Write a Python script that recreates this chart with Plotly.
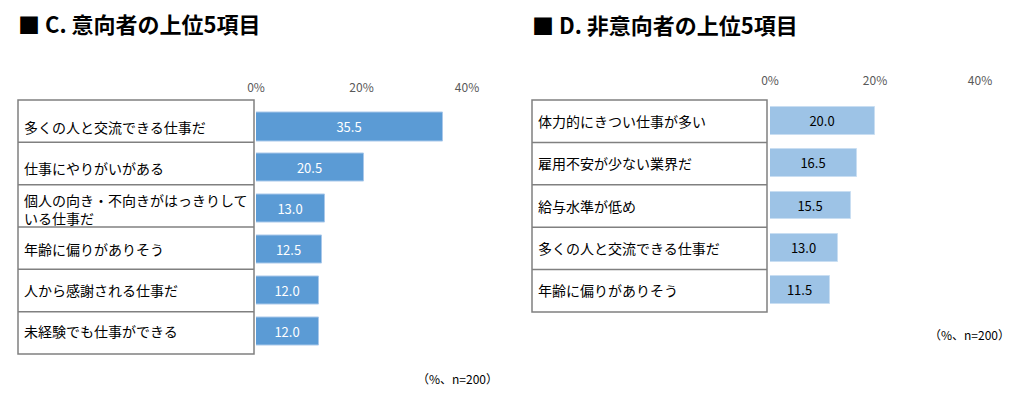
import plotly.graph_objects as go

# page body has an 8px margin, so the figure is 1010x390 placed at (8, 8)
OFF = 8
W, H = 1018 - OFF, 398 - OFF

# ---- data ----
title_c = "■ C. 意向者の上位5項目"
cats_c = ["多くの人と交流できる仕事だ", "仕事にやりがいがある",
          "個人の向き・不向きがはっきりして<br>いる仕事だ", "年齢に偏りがありそう",
          "人から感謝される仕事だ", "未経験でも仕事ができる"]
vals_c = [35.5, 20.5, 13.0, 12.5, 12.0, 12.0]

title_d = "■ D. 非意向者の上位5項目"
cats_d = ["体力的にきつい仕事が多い", "雇用不安が少ない業界だ", "給与水準が低め",
          "多くの人と交流できる仕事だ", "年齢に偏りがありそう"]
vals_d = [20.0, 16.5, 15.5, 13.0, 11.5]

tick_vals = [0, 20, 40]
tick_text = ["0%", "20%", "40%"]
note = "（%、n=200）"

FONT = "Noto Sans CJK JP"

def px(x):
    return (x - OFF) / W

def py(y):
    return 1 - (y - OFF) / H

fig = go.Figure()

fig.add_trace(go.Bar(
    x=vals_c, y=list(range(len(cats_c))), orientation="h", width=0.69,
    marker=dict(color="#5B9BD5", line=dict(color="#A9C8EA", width=1)),
    text=vals_c, texttemplate="%{x:.1f}", textposition="inside",
    insidetextanchor="middle", textangle=0,
    textfont=dict(color="white", size=13, family=FONT),
    xaxis="x", yaxis="y", hoverinfo="skip", showlegend=False))

fig.add_trace(go.Bar(
    x=vals_d, y=list(range(len(cats_d))), orientation="h", width=0.66,
    marker=dict(color="#9DC3E6", line=dict(color="#C9DEF2", width=1)),
    text=vals_d, texttemplate="%{x:.1f}", textposition="inside",
    insidetextanchor="middle", textangle=0,
    textfont=dict(color="black", size=13, family=FONT),
    xaxis="x2", yaxis="y2", hoverinfo="skip", showlegend=False))

xcommon = dict(side="top", range=[0, 40], tickvals=tick_vals, ticktext=tick_text,
               showgrid=False, zeroline=False, showline=False, ticks="outside",
               ticklen=9, tickcolor="rgba(0,0,0,0)", automargin=False,
               tickfont=dict(color="#595959", size=12, family=FONT), fixedrange=True)
ycommon = dict(showgrid=False, zeroline=False, showline=False, showticklabels=False,
               fixedrange=True, automargin=False)

fig.update_layout(
    width=W, height=H, margin=dict(l=0, r=0, t=0, b=0, pad=0, autoexpand=False),
    paper_bgcolor="white", plot_bgcolor="white", bargap=0,
    xaxis=dict(domain=[px(256), px(467)], anchor="y", **xcommon),
    yaxis=dict(domain=[py(351.5), py(106.5)], range=[5.5, -0.5], anchor="x", **ycommon),
    xaxis2=dict(domain=[px(770), px(980)], anchor="y2", **xcommon),
    yaxis2=dict(domain=[py(311), py(100)], range=[4.5, -0.5], anchor="x2", **ycommon),
)

shapes = []
ann = []

def table(left, right, top, bottom, n, yref, cats):
    step = (bottom - top) / n
    shapes.append(dict(type="rect", xref="paper", yref="paper",
                       x0=px(left), x1=px(right), y0=py(bottom), y1=py(top),
                       line=dict(color="#808080", width=1.5)))
    for i in range(1, n):
        y = top + i * step
        shapes.append(dict(type="line", xref="paper", yref="paper",
                           x0=px(left), x1=px(right), y0=py(y), y1=py(y),
                           line=dict(color="#808080", width=1.5)))
    for i, c in enumerate(cats):
        ann.append(dict(text=c, xref="paper", yref=yref, x=px(left + 4), y=i,
                        xanchor="left", yanchor="middle", showarrow=False, align="left",
                        font=dict(size=14, color="black", family=FONT)))

table(18, 254, 100, 354, len(cats_c), "y", cats_c)
table(532, 767, 100, 312, len(cats_d), "y2", cats_d)

ann.append(dict(text=title_c, xref="paper", yref="paper", x=px(17), y=py(23),
                xanchor="left", yanchor="middle", showarrow=False, borderpad=0,
                font=dict(size=22, color="black", family=FONT, weight="bold")))
ann.append(dict(text=title_d, xref="paper", yref="paper", x=px(531), y=py(24),
                xanchor="left", yanchor="middle", showarrow=False, borderpad=0,
                font=dict(size=22, color="black", family=FONT, weight="bold")))
ann.append(dict(text=note, xref="paper", yref="paper", x=px(500), y=py(378),
                xanchor="right", yanchor="middle", showarrow=False,
                font=dict(size=12, color="black", family=FONT)))
ann.append(dict(text=note, xref="paper", yref="paper", x=px(1012), y=py(334),
                xanchor="right", yanchor="middle", showarrow=False,
                font=dict(size=12, color="black", family=FONT)))

fig.update_layout(shapes=shapes, annotations=ann)
fig.write_html("out.html")
